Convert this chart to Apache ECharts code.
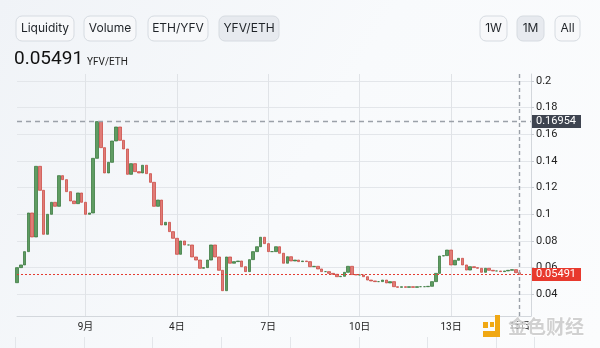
<!DOCTYPE html>
<html><head><meta charset="utf-8">
<script src="https://cdn.jsdelivr.net/npm/echarts@6/dist/echarts.min.js"></script>
<style>html,body{margin:0;padding:0;background:#f5f7fa}#c{width:600px;height:348px}</style>
</head><body><div id="c"></div>
<script>
// ---- data ----
const pairLabel = 'YFV/ETH';
const startUTC = [2020, 7, 29, 18]; // first candle: 29 Aug 18:00
const stepHours = 3;
const extraSlots = 3;
const tickDays = [1, 4, 7, 10, 13];
const firstOpen = 0.0487;
const closes = [
  0.0600,0.0620,0.0720,0.1010,0.0830,0.1360,0.1180,0.0850,0.1000,0.1090,
  0.1060,0.1290,0.1260,0.1170,0.1100,0.1080,0.1160,0.1090,0.1000,0.1010,
  0.1420,0.16954,0.1500,0.1310,0.1390,0.1550,0.1655,0.1555,0.1490,0.1300,
  0.1380,0.1320,0.1310,0.1368,0.1305,0.1240,0.1060,0.1107,0.0920,0.0940,
  0.0870,0.0820,0.0700,0.0800,0.0770,0.0770,0.0680,0.0657,0.0595,0.0600,
  0.0657,0.0770,0.0680,0.0580,0.0427,0.0680,0.0633,0.0645,0.0650,0.0607,
  0.0570,0.0660,0.0720,0.0757,0.0828,0.0780,0.0720,0.0720,0.0757,0.0708,
  0.0633,0.0682,0.0650,0.0657,0.0645,0.0650,0.0645,0.0607,0.0610,0.0590,
  0.0570,0.0570,0.0557,0.0550,0.0532,0.0535,0.0565,0.0610,0.0548,0.0545,
  0.0545,0.0532,0.0507,0.0500,0.0495,0.0495,0.0507,0.0485,0.0495,0.0457,
  0.0452,0.0457,0.0452,0.0457,0.0452,0.0457,0.0457,0.0457,0.0460,0.0495,
  0.0557,0.0687,0.0690,0.0732,0.0620,0.0655,0.0670,0.0620,0.0582,0.0607,
  0.0600,0.0595,0.0565,0.0595,0.0580,0.0575,0.0575,0.0570,0.0575,0.0580,
  0.0585,0.0562,0.05491
];
const leftButtons = ['Liquidity', 'Volume', 'ETH/YFV', 'YFV/ETH'];
const rightButtons = ['1W', '1M', 'All'];
const selectedButtons = ['YFV/ETH', '1M'];
const watermarkText = '金色财经';

// ---- derived ----
const pad = n => String(n).padStart(2, '0');
const categories = [];
const t0 = Date.UTC(startUTC[0], startUTC[1], startUTC[2], startUTC[3]);
for (let i = 0; i < closes.length + extraSlots; i++) {
  const d = new Date(t0 + i * stepHours * 3600e3);
  categories.push(d.getUTCFullYear() + '-' + pad(d.getUTCMonth() + 1) + '-' + pad(d.getUTCDate()) + ' ' + pad(d.getUTCHours()) + ':00');
}
const candles = closes.map((c, i) => {
  const o = i === 0 ? firstOpen : closes[i - 1];
  return [o, c, Math.min(o, c), Math.max(o, c)];
});
const lastIdx = closes.length - 1;
const lastClose = closes[lastIdx];
const maxHigh = Math.max(...candles.map(c => c[3]));
const parseCat = s => ({ m: +s.slice(5, 7), d: +s.slice(8, 10), h: +s.slice(11, 13) });
const isTick = (idx, s) => { const p = parseCat(s); return p.h === 0 && tickDays.includes(p.d); };
const fmtCat = s => { const p = parseCat(s); return p.d === 1 ? p.m + '月' : p.d + '日'; };

const FONT = 'Roboto, "Noto Sans CJK SC", sans-serif';

// ---- header graphics ----
const graphics = [];
function button(x, w, label) {
  const sel = selectedButtons.includes(label);
  graphics.push({
    type: 'rect', shape: { x: x, y: 16, width: w, height: 25, r: 6 },
    style: { fill: sel ? '#e7eaef' : '#f7f8fa', stroke: '#d6dbe1', lineWidth: 1 }, z: 10
  });
  graphics.push({
    type: 'text', style: { text: label, x: x + w / 2, y: 28.5, align: 'center', verticalAlign: 'middle',
      fill: '#1f2328', font: '12px Inter, Roboto, sans-serif' }, z: 11
  });
}
const lbX = [16, 84, 148, 219], lbW = [58, 52, 60, 60];
leftButtons.forEach((b, i) => button(lbX[i], lbW[i], b));
const rbX = [480, 517, 555], rbW = [27, 27, 25];
rightButtons.forEach((b, i) => button(rbX[i], rbW[i], b));
graphics.push({ type: 'text', style: { text: lastClose.toFixed(5), x: 14, y: 69, verticalAlign: 'bottom',
  fill: '#111', font: '19px Roboto, sans-serif' }, z: 10 });
graphics.push({ type: 'text', style: { text: pairLabel, x: 87, y: 67.5, verticalAlign: 'bottom',
  fill: '#222', font: '10px Roboto, sans-serif' }, z: 10 });
// watermark
const wmColor = '#f0a814';
[[495, 315, 5, 22], [483, 331, 17, 6], [483, 322, 5, 6], [490, 322, 4, 5]].forEach(r => {
  graphics.push({ type: 'rect', shape: { x: r[0], y: r[1], width: r[2], height: r[3] }, style: { fill: wmColor }, z: 50 });
});
graphics.push({ type: 'text', style: { text: watermarkText, x: 508, y: 327, verticalAlign: 'middle',
  fill: 'rgba(190,190,190,0.7)', stroke: 'rgba(255,255,255,0.9)', lineWidth: 1.2,
  font: 'bold 19px "Noto Sans CJK SC", sans-serif' }, z: 50 });

const chart = echarts.init(document.getElementById('c'), null, { renderer: 'canvas', width: 600, height: 348 });
chart.setOption({
  animation: false,
  backgroundColor: {
    type: 'linear', x: 0, y: 0, x2: 1, y2: 1,
    colorStops: [{ offset: 0, color: '#f0f3f7' }, { offset: 0.5, color: '#f8fafc' }, { offset: 1, color: '#fbfcfd' }]
  },
  textStyle: { fontFamily: FONT },
  graphic: graphics,
  grid: [
    { left: 17, right: 69, top: 74, bottom: 32 },
    { left: 15.3, right: 66, top: 337, height: 40 }
  ],
  xAxis: [{
    type: 'category', data: categories, boundaryGap: false,
    axisLine: { lineStyle: { color: '#d3d7dc' } },
    axisTick: { show: false },
    axisLabel: { interval: isTick, formatter: fmtCat, color: '#222', fontSize: 10, margin: 6 },
    splitLine: { show: true, interval: isTick, lineStyle: { color: '#e0e3e7' } }
  }, {
    type: 'value', gridIndex: 1, min: 0, max: 7.55, interval: 1,
    axisLine: { show: false }, axisTick: { show: false }, axisLabel: { show: false },
    splitLine: { show: true, showMinLine: true, showMaxLine: true, lineStyle: { color: '#e3e6ea' } }
  }],
  yAxis: [{
    type: 'value', position: 'right', min: 0.02372, max: 0.20525, splitNumber: 9, scale: true,
    axisLine: { show: true, lineStyle: { color: '#d3d7dc' } },
    axisTick: { show: true, length: 3, lineStyle: { color: '#c9cdd3' } },
    axisLabel: { color: '#222', fontSize: 11, margin: 5, showMinLabel: false, showMaxLabel: false },
    splitLine: { show: true, showMinLine: false, showMaxLine: false, lineStyle: { color: '#e3e6ea' } }
  }, { type: 'value', gridIndex: 1, show: false }],
  series: [{
    type: 'candlestick', data: candles, barWidth: 3,
    itemStyle: { color: '#5f9c62', color0: '#e07c77', borderColor: '#2f7134', borderColor0: '#c8403a', borderWidth: 0.7 },
    markLine: {
      silent: true, symbol: ['none', 'none'], animation: false, precision: 6,
      data: [
        { yAxis: maxHigh, lineStyle: { color: '#9ba1a9', type: [5, 4], width: 1.4 },
          label: { show: true, position: 'end', distance: 1, formatter: maxHigh.toFixed(5),
            backgroundColor: '#3e4450', color: '#fff', fontSize: 11, padding: [1, 5, 1, 4] } },
        { yAxis: lastClose, lineStyle: { color: '#e33b30', type: [2, 2], width: 1.2, opacity: 1 },
          label: { show: true, position: 'end', distance: 1, formatter: lastClose.toFixed(5),
            backgroundColor: '#e8392d', color: '#fff', fontSize: 11, padding: [1, 5, 1, 4] } },
        { xAxis: categories[lastIdx], lineStyle: { color: '#9ba1a9', type: [4, 3], width: 1.4 },
          label: { show: true, position: 'start', distance: 5, formatter: fmtCat(categories[lastIdx]),
            color: '#222', fontSize: 10 } }
      ]
    }
  }, { type: 'line', xAxisIndex: 1, yAxisIndex: 1, data: [] }]
});
</script></body></html>
